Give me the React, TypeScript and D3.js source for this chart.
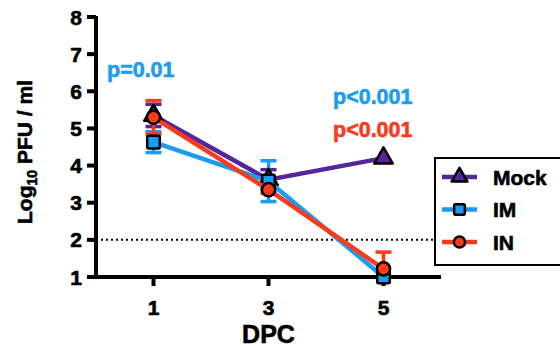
import React from "react";
import * as d3 from "d3";

const days = [1, 3, 5];
const seriesNames = ["Mock", "IM", "IN"];
const mockMean = [5.35, 3.62, 4.2];
const mockErr = [0.3, 0.27, 0];
const imMean = [4.63, 3.58, 1.0];
const imErr = [0.28, 0.55, 0];
const inMean = [5.3, 3.35, 1.22];
const inErr = [0.45, 0.1, 0.45];
const yTicks = [1, 2, 3, 4, 5, 6, 7, 8];
const limitOfDetection = 2;

const colors = ["#55259a", "#1b9cf2", "#fb3a1c"];
const shapes = ["triangle", "square", "circle"];

const W = 560, H = 349;
const x = d3.scaleLinear().domain([0, 6]).range([96, 441]);
const y = d3.scaleLinear().domain([1, 8]).range([277, 17]);

function Marker({ shape, cx, cy, fill, s = 1 }: any) {
  const sw = 2.5;
  if (shape === "triangle") {
    const p = d3.symbol().type(d3.symbolTriangle).size(150 * s * s)();
    return <path d={p as string} transform={`translate(${cx},${cy})`} fill={fill} stroke="#000" strokeWidth={sw} strokeLinejoin="round" />;
  }
  if (shape === "square") {
    const r = 6.3 * s;
    return <rect x={cx - r} y={cy - r} width={2 * r} height={2 * r} rx={1.5} fill={fill} stroke="#000" strokeWidth={sw} />;
  }
  return <circle cx={cx} cy={cy} r={6.6 * s} fill={fill} stroke="#000" strokeWidth={sw} />;
}

export default function App() {
  const means = [mockMean, imMean, inMean];
  const errs = [mockErr, imErr, inErr];
  const line = d3.line<number>().x((_, i) => x(days[i])).y((v) => y(v));
  const font = "'Liberation Sans', Arial, sans-serif";
  const heavy = (c: string) => ({ fill: c, stroke: c, strokeWidth: 0.6 });
  return (
    <svg width={W} height={H} style={{ position: "absolute", left: 0, top: 0 }} fontFamily={font} fontWeight="bold">
      <defs>
        <clipPath id="plotClip">
          <rect x={x(0)} y={0} width={x(6) - x(0)} height={y(1)} />
        </clipPath>
      </defs>
      <rect width={W} height={H} fill="#fff" />
      {/* dotted LOD line */}
      <line x1={x(0)} x2={440} y1={y(limitOfDetection)} y2={y(limitOfDetection)} stroke="#000" strokeWidth={2} strokeDasharray="2,3" />
      {/* error bars */}
      <g clipPath="url(#plotClip)">
        {means.map((m, si) => (
          <g key={si}>
            {m.map((v, i) =>
              errs[si][i] > 0 ? (
                <g key={i} stroke={colors[si]} strokeWidth={3.5}>
                  <line x1={x(days[i])} x2={x(days[i])} y1={y(v - errs[si][i])} y2={y(v + errs[si][i])} />
                  <line x1={x(days[i]) - 8} x2={x(days[i]) + 8} y1={y(v + errs[si][i])} y2={y(v + errs[si][i])} />
                  <line x1={x(days[i]) - 8} x2={x(days[i]) + 8} y1={y(v - errs[si][i])} y2={y(v - errs[si][i])} />
                </g>
              ) : null
            )}
          </g>
        ))}
      </g>
      {/* axes */}
      <line x1={x(0)} x2={x(0)} y1={y(8) - 1} y2={y(1) + 2} stroke="#000" strokeWidth={4} />
      <line x1={x(0) - 2} x2={x(6)} y1={y(1)} y2={y(1)} stroke="#000" strokeWidth={4} />
      {yTicks.map((t) => (
        <g key={t}>
          <line x1={x(0) - 9} x2={x(0)} y1={y(t)} y2={y(t)} stroke="#000" strokeWidth={4} />
          <text x={82} y={y(t)} dy="0.36em" textAnchor="end" fontSize={21} {...heavy("#000")}>{t}</text>
        </g>
      ))}
      {days.map((d) => (
        <g key={d}>
          <line x1={x(d)} x2={x(d)} y1={y(1)} y2={y(1) + 9} stroke="#000" strokeWidth={4} />
          <text x={x(d)} y={315} textAnchor="middle" fontSize={21} {...heavy("#000")}>{d}</text>
        </g>
      ))}
      <text x={x(3)} y={343} textAnchor="middle" fontSize={25} {...heavy("#000")}>DPC</text>
      <text transform={`translate(32,152) rotate(-90)`} textAnchor="middle" fontSize={21} {...heavy("#000")}>
        Log<tspan fontSize={14} dy={5}>10</tspan><tspan dy={-5}> PFU / ml</tspan>
      </text>
      {/* lines and markers */}
      {means.map((m, si) => (
        <g key={si}>
          <path d={line(m) as string} fill="none" stroke={colors[si]} strokeWidth={4.5} />
          {m.map((v, i) => (
            <Marker key={i} shape={shapes[si]} cx={x(days[i])} cy={y(v)} fill={colors[si]} />
          ))}
        </g>
      ))}
      {/* p-values */}
      <text x={107} y={77} fontSize={21.5} {...heavy(colors[1])}>p=0.01</text>
      <text x={333} y={104} fontSize={21.5} {...heavy(colors[1])}>p&lt;0.001</text>
      <text x={333} y={137} fontSize={21.5} {...heavy(colors[2])}>p&lt;0.001</text>
      {/* legend */}
      <rect x={435} y={158} width={130} height={107} fill="#fff" stroke="#000" strokeWidth={2} />
      {seriesNames.map((n, i) => {
        const ly = 177 + i * 32.5;
        return (
          <g key={n}>
            <line x1={442} x2={477} y1={ly} y2={ly} stroke={colors[i]} strokeWidth={4.5} />
            <Marker shape={shapes[i]} cx={459.5} cy={ly} fill={colors[i]} s={0.85} />
            <text x={493} y={ly} dy="0.36em" fontSize={21} {...heavy("#000")}>{n}</text>
          </g>
        );
      })}
    </svg>
  );
}
